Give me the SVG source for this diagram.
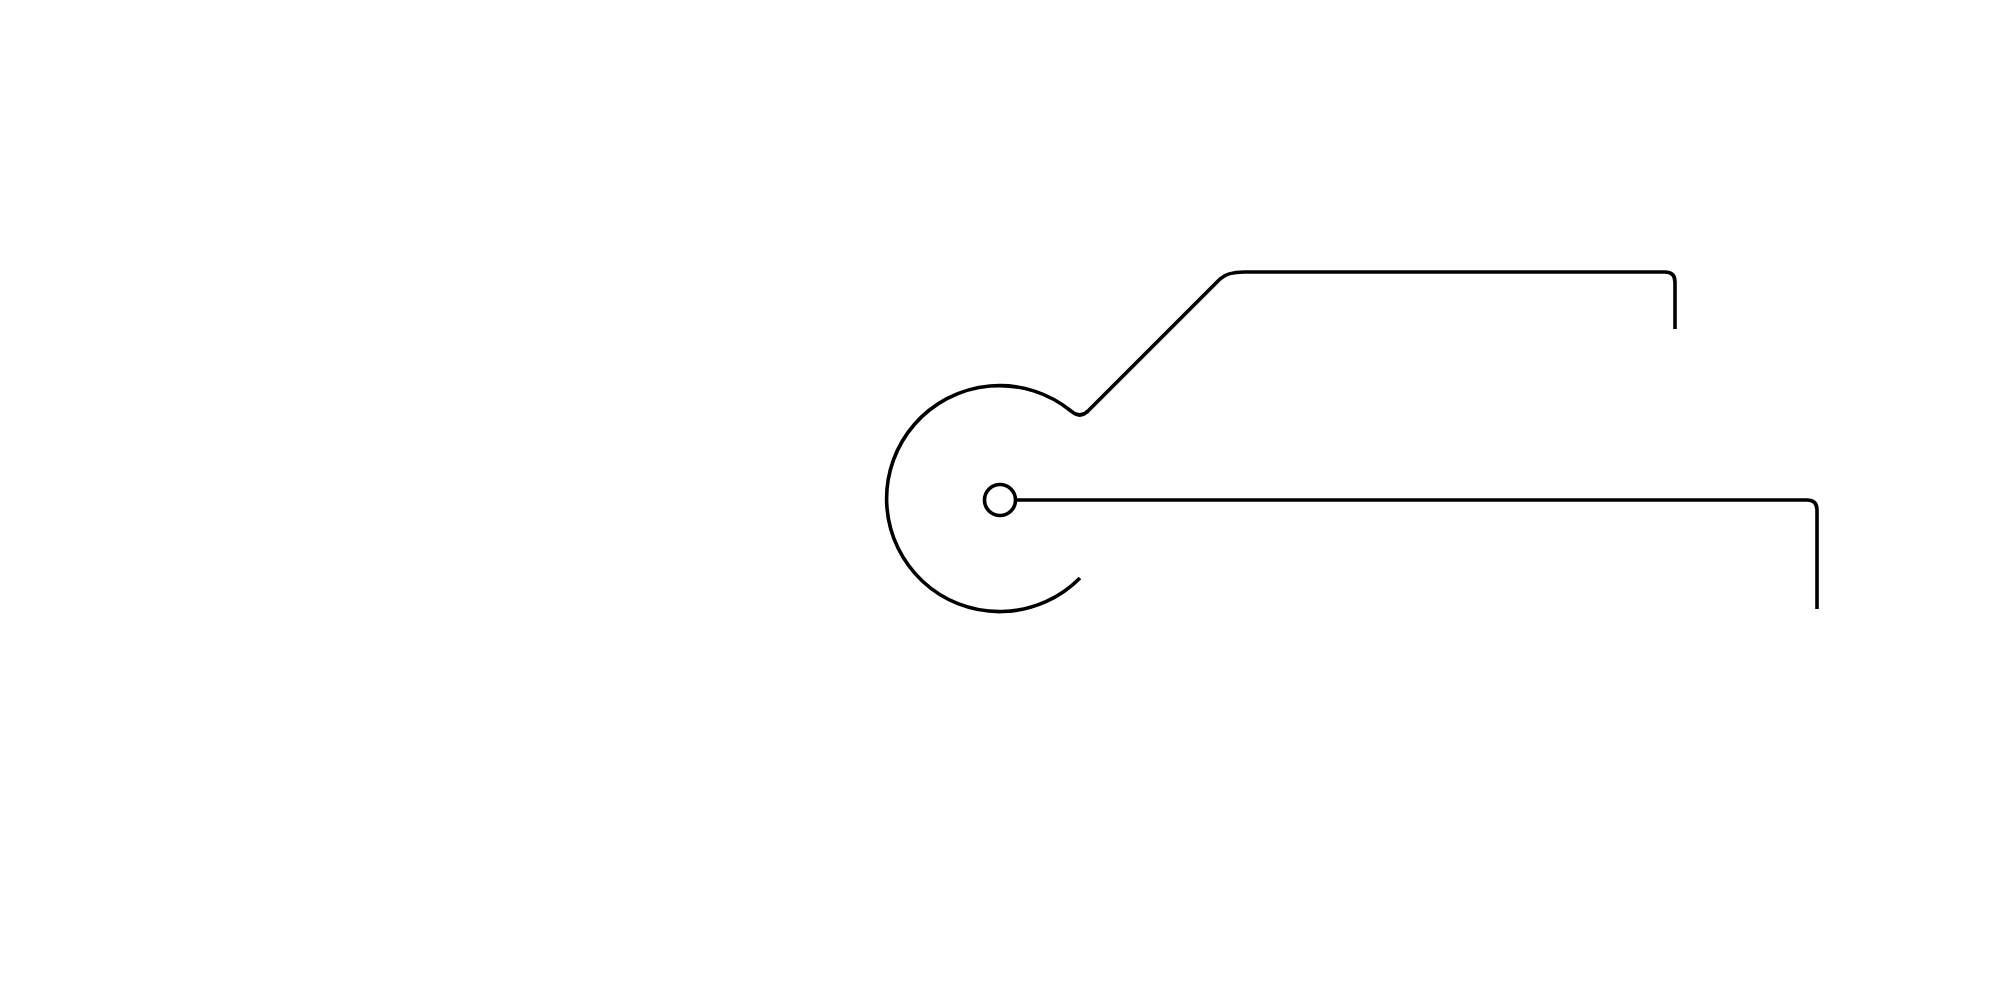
<svg xmlns="http://www.w3.org/2000/svg" width="2000" height="1000" viewBox="0 0 2000 1000">
<style>
.s{fill:none;stroke:#000;stroke-width:3.6;stroke-linejoin:round}
</style>
<rect width="2000" height="1000" fill="#fff"/>
<g id="ring">
<path class="s" d="M1080 578 A113 113 0 1 1 1071 411 Q1080 419 1088 411"/>
</g>
<g id="connectors">
<path class="s" d="M1087 412 L1220 279 Q1227 272 1244 272 L1665 272 Q1675 272 1675 282 L1675 329"/>
<path class="s" d="M1015 500 L1807 500 Q1817 500 1817 510 L1817 609"/>
</g>
<g id="hub">
<circle class="s" cx="1000" cy="500" r="15.5" fill="#fff"/>
</g>
</svg>
